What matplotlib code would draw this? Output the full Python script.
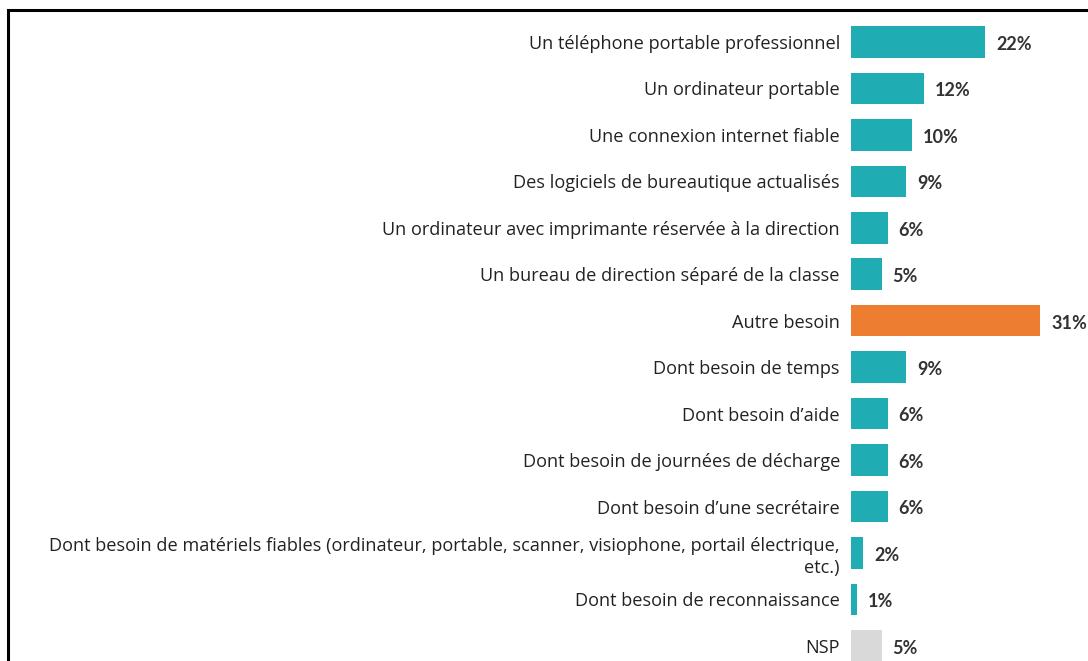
import matplotlib
matplotlib.use("Agg")
import matplotlib.pyplot as plt
from matplotlib.patches import Rectangle

categories = [
    "Un téléphone portable professionnel",
    "Un ordinateur portable",
    "Une connexion internet fiable",
    "Des logiciels de bureautique actualisés",
    "Un ordinateur avec imprimante réservée à la direction",
    "Un bureau de direction séparé de la classe",
    "Autre besoin",
    "Dont besoin de temps",
    "Dont besoin d’aide",
    "Dont besoin de journées de décharge",
    "Dont besoin d’une secrétaire",
    "Dont besoin de matériels fiables (ordinateur, portable, scanner, visiophone, portail électrique,\netc.)",
    "Dont besoin de reconnaissance",
    "NSP",
]
values = [22, 12, 10, 9, 6, 5, 31, 9, 6, 6, 6, 2, 1, 5]

TEAL = "#1FADB3"
ORANGE = "#ED7D31"
GREY = "#D9D9D9"
colors = [TEAL] * 6 + [ORANGE] + [TEAL] * 6 + [GREY]

plt.rcParams["font.family"] = ["Open Sans", "DejaVu Sans"]

W, H = 1088, 661
fig = plt.figure(figsize=(W / 100, H / 100), dpi=100)

# cadre noir (coupé en bas et à droite)
fig.patches.append(Rectangle((8 / W, -0.05), 1.2, 1.05 - 10 / H,
                             transform=fig.transFigure, fill=False,
                             edgecolor="black", linewidth=2.2))

row = 46.45
top = 42 - row / 2
n = len(categories)
bottom = top + n * row
ax = fig.add_axes([851 / W, 1 - bottom / H, 232 / W, (bottom - top) / H])
ax.set_facecolor("none")

ypos = list(range(n))
ax.barh(ypos, values, height=0.68, color=colors)
ax.set_xlim(0, 38)
ax.set_ylim(n - 0.5, -0.5)

ax.set_yticks(ypos)
ax.set_yticklabels(categories, fontsize=13.1, color="#222222", ha="right",
                   multialignment="right", linespacing=1.3)
ax.tick_params(axis="y", length=0, pad=8)
ax.set_xticks([])
for s in ax.spines.values():
    s.set_visible(False)

for y, v in zip(ypos, values):
    ax.text(v + 1.8, y + 0.05, f"{v}%", va="center", ha="left",
            fontsize=13, fontweight="bold", color="#333333",
            family=["Lato", "DejaVu Sans"])

fig.savefig("out.png", dpi=100)
